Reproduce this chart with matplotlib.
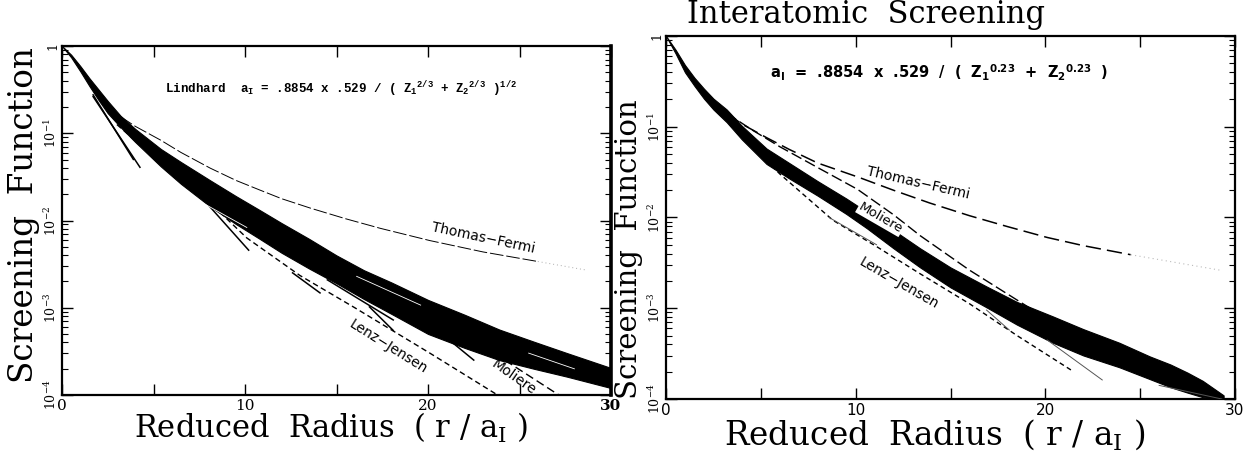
import numpy as np
import matplotlib
matplotlib.use("Agg")
import matplotlib.pyplot as plt

plt.rcParams['mathtext.fontset'] = 'dejavuserif'
plt.rcParams['font.family'] = ['DejaVu Serif']

W, H = 1250, 451

# ---------------- data (log10 of screening function) ----------
# Left panel (Lindhard screening length)
L_band_x = [0, 0.5, 1, 1.5, 2, 2.5, 3.2, 4, 5.4, 6.5, 8.1, 9.5, 10.8, 12, 13.5, 15, 16.5,
            18, 20, 22, 23.9, 25.8, 27.6, 30]
L_band_up = [0, -0.10, -0.23, -0.37, -0.50, -0.63, -0.80, -0.95, -1.18, -1.33, -1.54, -1.72,
             -1.88, -2.03, -2.21, -2.40, -2.57, -2.71, -2.91, -3.08, -3.25, -3.39, -3.52, -3.69]
L_band_lo = [0, -0.13, -0.29, -0.46, -0.62, -0.77, -0.93, -1.10, -1.38, -1.58, -1.84, -2.04,
             -2.21, -2.37, -2.55, -2.72, -2.90, -3.07, -3.30, -3.46, -3.60, -3.70, -3.79, -3.92]

L_tf_x = [3.2, 4, 5.4, 6.5, 8.1, 9.5, 10.8, 12, 13.6, 15.5, 17.4, 20.1, 23, 26]
L_tf_y = [-0.81, -0.92, -1.08, -1.22, -1.40, -1.54, -1.65, -1.75, -1.86, -1.98, -2.09,
          -2.23, -2.36, -2.47]
L_tf_tail_x = [26, 28.7]
L_tf_tail_y = [-2.47, -2.57]

L_lj_x = [3, 6, 8.6, 10.1, 13, 16, 20.1, 23.8, 24.5]
L_lj_y = [-0.90, -1.45, -1.90, -2.20, -2.63, -3.00, -3.52, -4.00, -4.10]

L_mol_x = [14, 18, 22, 23.6, 27, 28.4]
L_mol_y = [-2.45, -2.95, -3.35, -3.52, -3.98, -4.15]

L_stray = [
    ([1.7, 4.26], [-0.58, -1.39]),
    ([1.7, 3.9], [-0.56, -1.30]),
    ([7.9, 10.2], [-1.80, -2.34]),
    ([12.6, 14.1], [-2.60, -2.83]),
    ([14.5, 18.1], [-2.68, -3.14]),
    ([16.8, 18.1], [-2.99, -3.26]),
    ([20.7, 22.5], [-3.29, -3.60]),
]
L_white = [
    ([16.1, 19.6], [-2.64, -2.97]),
    ([7.7, 10.1], [-1.80, -2.08]),
    ([25.5, 28.0], [-3.52, -3.70]),
]

# Right panel (universal screening length)
R_band_x = [0, 0.5, 1, 1.5, 2, 2.5, 3.2, 4, 5.3, 6.5, 8, 9.5, 10.6, 12, 13.4, 15, 16.9,
            18.5, 20.4, 22, 23.9, 25.5, 26.6, 27.5, 28.3, 29.4]
R_band_up = [0, -0.15, -0.32, -0.46, -0.58, -0.69, -0.81, -0.99, -1.24, -1.40, -1.60, -1.79,
             -1.94, -2.14, -2.34, -2.55, -2.76, -2.93, -3.09, -3.23, -3.38, -3.53, -3.62,
             -3.71, -3.80, -3.96]
R_band_lo = [0, -0.19, -0.40, -0.55, -0.69, -0.81, -0.95, -1.14, -1.41, -1.57, -1.76, -1.96,
             -2.12, -2.34, -2.55, -2.77, -2.99, -3.18, -3.38, -3.52, -3.65, -3.78, -3.87,
             -3.93, -3.98, -4.00]

R_tf_x = [3.2, 4, 5.3, 6.5, 8, 10.2, 12, 13.9, 16, 18, 20.1, 22, 24.5]
R_tf_y = [-0.85, -0.97, -1.12, -1.25, -1.40, -1.56, -1.70, -1.84, -1.98, -2.10, -2.22,
          -2.31, -2.41]
R_tf_tail_x = [24.5, 29.2]
R_tf_tail_y = [-2.41, -2.58]

R_mol_x = [3.2, 4.5, 6, 8, 10.1, 12, 13.4, 16, 19.2, 21]
R_mol_y = [-0.85, -1.03, -1.22, -1.45, -1.69, -1.97, -2.20, -2.58, -3.00, -3.20]

R_lj_x = [2, 4, 6, 8.8, 11.1, 13.4, 16, 18.5, 21.5]
R_lj_y = [-0.62, -1.10, -1.52, -2.03, -2.32, -2.62, -2.95, -3.30, -3.70]

R_stray = [
    ([8.6, 11.1], [-2.00, -2.30]),
    ([16.9, 18.1], [-3.02, -3.24]),
    ([20.1, 23.0], [-3.35, -3.79]),
    ([26.0, 29.3], [-3.85, -4.00]),
]

x_ticks = [0, 5, 10, 15, 20, 25, 30]
x_ticklabels = ['0', '', '10', '', '20', '', '30']
y_ticks = [1e-4, 1e-3, 1e-2, 1e-1, 1]
y_ticklabels = [r'$10^{-4}$', r'$10^{-3}$', r'$10^{-2}$', r'$10^{-1}$', '1']

# ---------------- figure ----------------
fig = plt.figure(figsize=(W / 100, H / 100), dpi=100)


def px_axes(x0, y0, x1, y1):
    return fig.add_axes([x0 / W, 1 - y1 / H, (x1 - x0) / W, (y1 - y0) / H])


def p10(a):
    return 10 ** np.asarray(a, dtype=float)


def style_axes(ax, bold30=False):
    ax.set_yscale('log')
    ax.set_xlim(0, 30)
    ax.set_ylim(1e-4, 1)
    ax.set_xticks(x_ticks)
    ax.set_xticklabels(x_ticklabels)
    ax.set_yticks(y_ticks)
    ax.set_yticklabels(y_ticklabels)
    ax.yaxis.set_minor_locator(matplotlib.ticker.LogLocator(base=10, subs=np.arange(2, 10)))
    ax.yaxis.set_minor_formatter(matplotlib.ticker.NullFormatter())
    ax.tick_params(which='both', direction='in', top=True, right=True)
    ax.tick_params(which='major', length=8, width=1.0, pad=3)
    ax.tick_params(axis='y', which='major', labelsize=9, pad=2)
    ax.tick_params(which='minor', length=4, width=0.8)
    for lab in ax.get_yticklabels():
        lab.set_rotation(90)
        lab.set_va('center')
    for s in ax.spines.values():
        s.set_linewidth(1.6)
    for lab in ax.get_xticklabels():
        lab.set_fontsize(11)
        if bold30 and lab.get_text() == '30':
            lab.set_fontweight('bold')


# ---- Left panel ----
axL = px_axes(62, 46, 611, 395)
style_axes(axL, bold30=True)
axL.spines['right'].set_linewidth(2.6)
axL.fill_between(L_band_x, p10(L_band_up), p10(L_band_lo), color='black', lw=0.8, zorder=3)
axL.plot(L_tf_x, p10(L_tf_y), color='black', lw=0.7, dashes=(14, 3), zorder=2)
axL.plot(L_tf_tail_x, p10(L_tf_tail_y), color='#aaaaaa', lw=0.7, dashes=(1, 3), zorder=2)
axL.plot(L_lj_x, p10(L_lj_y), color='black', lw=1.0, dashes=(4, 2.5), zorder=2)
axL.plot(L_mol_x, p10(L_mol_y), color='black', lw=1.0, dashes=(6, 3), zorder=2)
for xs, ys in L_stray:
    axL.plot(xs, p10(ys), color='black', lw=1.1, zorder=3)
for xs, ys in L_white:
    axL.plot(xs, p10(ys), color='white', lw=0.6, zorder=4)

fig.text(165 / W, 1 - 89 / H,
         r'Lindhard  a$_\mathregular{I}$ = .8854 x .529 / ( Z$_\mathregular{1}$$^\mathregular{2/3}$ + Z$_\mathregular{2}$$^\mathregular{2/3}$ )$^\mathregular{1/2}$',
         family=['Liberation Mono'], fontweight='bold', fontsize=9, va='center', ha='left')

axL.text(23.0, p10(-2.20), 'Thomas\u2212Fermi', family=['DejaVu Sans'], fontsize=10,
         rotation=-12, ha='center', va='center', rotation_mode='anchor')
axL.text(17.8, p10(-3.45), 'Lenz\u2212Jensen', family=['DejaVu Sans'], fontsize=10,
         rotation=-32, ha='center', va='center', rotation_mode='anchor')
axL.text(24.7, p10(-3.8), 'Moliere', family=['DejaVu Sans'], fontsize=10,
         rotation=-35, ha='center', va='center', rotation_mode='anchor')

# ---- Right panel ----
axR = px_axes(666, 36, 1235, 399)
style_axes(axR)
for lab in axR.get_xticklabels():
    lab.set_family(['DejaVu Sans'])
axR.fill_between(R_band_x, p10(R_band_up), p10(R_band_lo), color='black', lw=0.8, zorder=3)
axR.plot(R_tf_x, p10(R_tf_y), color='black', lw=1.1, dashes=(10, 4), zorder=2)
axR.plot(R_tf_tail_x, p10(R_tf_tail_y), color='#bbbbbb', lw=0.8, dashes=(1, 3), zorder=2)
axR.plot(R_mol_x, p10(R_mol_y), color='black', lw=1.0, dashes=(8, 3), zorder=2)
axR.plot(R_lj_x, p10(R_lj_y), color='black', lw=1.0, dashes=(3.5, 2.5), zorder=2)
for xs, ys in R_stray:
    axR.plot(xs, p10(ys), color='#555555', lw=0.7, zorder=3)

fig.text(770 / W, 1 - 73 / H,
         r'a$_\mathregular{I}$  =  .8854  x  .529  /  (  Z$_\mathregular{1}$$^\mathregular{0.23}$  +  Z$_\mathregular{2}$$^\mathregular{0.23}$  )',
         family=['DejaVu Sans'], fontweight='bold', fontsize=10.5, va='center', ha='left')

axR.text(13.3, p10(-1.62), 'Thomas\u2212Fermi', family=['DejaVu Sans'], fontsize=10,
         rotation=-13, ha='center', va='center', rotation_mode='anchor')
axR.text(11.3, p10(-2.01), 'Moliere', family=['DejaVu Sans'], fontsize=9.5,
         rotation=-30, ha='center', va='center', rotation_mode='anchor', zorder=5,
         bbox=dict(boxstyle='square,pad=0.05', fc='white', ec='none'))
axR.text(12.3, p10(-2.72), 'Lenz\u2212Jensen', family=['DejaVu Sans'], fontsize=10,
         rotation=-30, ha='center', va='center', rotation_mode='anchor')

# ---- axis labels & title ----
fig.text(24 / W, 1 - 215 / H, 'Screening  Function', rotation=90, fontsize=23.5,
         ha='center', va='center')
fig.text(629 / W, 1 - 249 / H, 'Screening  Function', rotation=90, fontsize=21,
         ha='center', va='center')
fig.text(331 / W, 1 - 428 / H, r'Reduced  Radius  ( r / a$_\mathregular{I}$ )', fontsize=22,
         ha='center', va='center')
fig.text(935 / W, 1 - 435 / H, r'Reduced  Radius  ( r / a$_\mathregular{I}$ )', fontsize=23.5,
         ha='center', va='center')
fig.text(866 / W, 1 - 15 / H, 'Interatomic  Screening', fontsize=22, ha='center', va='center')

fig.savefig('out.png', dpi=100, facecolor='white')
